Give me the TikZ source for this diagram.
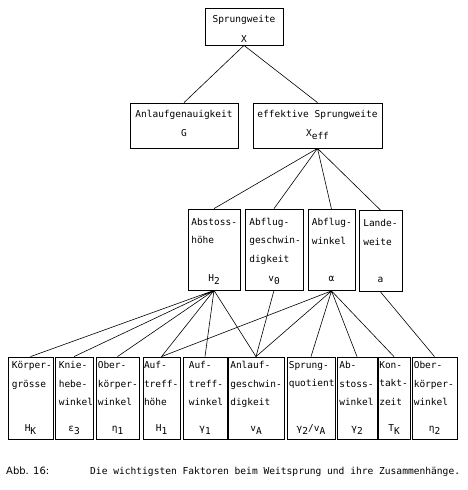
\documentclass[tikz,border=0pt]{standalone}
\usepackage{fontspec}
\setmonofont{DejaVu Sans Mono}
\setsansfont{DejaVu Sans}
\newcommand{\lowidx}[1]{\raisebox{-0.55ex}{#1}}
\begin{document}
\begin{tikzpicture}[x=1pt,y=-1pt,
  box/.style={draw, line width=0.8pt, inner sep=0pt},
  txt/.style={font=\ttfamily\fontsize{9.5}{18.5}\selectfont, inner sep=0pt, align=left, anchor=north west},
  ctxt/.style={font=\ttfamily\fontsize{9.5}{11}\selectfont, inner sep=0pt, anchor=base},
  sym/.style={font=\ttfamily\fontsize{9.5}{11}\selectfont, inner sep=0pt, anchor=base},
  link/.style={line width=0.6pt}]
% Fix the page size
\useasboundingbox (0,0) rectangle (467,490);

% Top level
\node[box, minimum width=78pt, minimum height=37pt] (sprung) at (244,26.5) {};
\node[ctxt] (sprungT) at (244,22) {Sprungweite};
\node[ctxt] (sprungS) at (244,42.5) {X};

% Second level
\node[box, minimum width=108pt, minimum height=45pt] (genau) at (184,125.5) {};
\node[ctxt] (genauT) at (184,117) {Anlaufgenauigkeit};
\node[ctxt] (genauS) at (184,136.5) {G};
\node[box, minimum width=129pt, minimum height=45pt] (xeff) at (317.5,125.5) {};
\node[ctxt] (xeffT) at (317.5,117) {effektive Sprungweite};
\node[ctxt] (xeffS) at (317.5,136.5) {X\lowidx{eff}};

% Third level
\node[box, minimum width=52pt, minimum height=81pt] (hoehe) at (214,249.5) {};
\node[box, minimum width=58pt, minimum height=81pt] (vnull) at (274,249.5) {};
\node[box, minimum width=47pt, minimum height=81pt] (winkel) at (331.5,250) {};
\node[box, minimum width=43pt, minimum height=81pt] (lande) at (380.5,251) {};
\node[txt, xshift=3.5pt, yshift=-9pt] at (hoehe.north west) {Abstoss-\\höhe};
\node[txt, xshift=4.5pt, yshift=-9pt] at (vnull.north west) {Abflug-\\geschwin-\\digkeit};
\node[txt, xshift=4pt, yshift=-9pt] at (winkel.north west) {Abflug-\\winkel};
\node[txt, xshift=4.5pt, yshift=-9pt] at (lande.north west) {Lande-\\weite};
\node[sym, yshift=9pt] at (hoehe.south) {H\lowidx{2}};
\node[sym, yshift=9pt] at (vnull.south) {v\lowidx{0}};
\node[sym, yshift=9pt] at (winkel.south) {α};
\node[sym, yshift=9pt] at (lande.south) {a};

% Fourth level
\node[box, minimum width=45pt, minimum height=82pt] (koerper) at (30.5,398) {};
\node[box, minimum width=38pt, minimum height=82pt] (knie) at (74,398) {};
\node[box, minimum width=43pt, minimum height=82pt] (oberk) at (117.5,398) {};
\node[box, minimum width=37pt, minimum height=82pt] (aufh) at (161.5,398) {};
\node[box, minimum width=44pt, minimum height=82pt] (aufw) at (205,398) {};
\node[box, minimum width=56pt, minimum height=82pt] (anlauf) at (256,398) {};
\node[box, minimum width=48pt, minimum height=82pt] (quot) at (311,398) {};
\node[box, minimum width=40pt, minimum height=82pt] (abstw) at (357,398) {};
\node[box, minimum width=32pt, minimum height=82pt] (kontakt) at (394,398) {};
\node[box, minimum width=45pt, minimum height=82pt] (oberz) at (434.5,398) {};
\node[txt, xshift=4pt, yshift=-4.5pt] at (koerper.north west) {Körper-\\grösse};
\node[txt, xshift=4pt, yshift=-4.5pt] at (knie.north west) {Knie-\\hebe-\\winkel};
\node[txt, xshift=2pt, yshift=-4.5pt] at (oberk.north west) {Ober-\\körper-\\winkel};
\node[txt, xshift=1.2pt, yshift=-4.5pt] at (aufh.north west) {Auf-\\treff-\\höhe};
\node[txt, xshift=6pt, yshift=-4.5pt] at (aufw.north west) {Auf-\\treff-\\winkel};
\node[txt, xshift=2.5pt, yshift=-4.5pt] at (anlauf.north west) {Anlauf-\\geschwin-\\digkeit};
\node[txt, xshift=2pt, yshift=-4.5pt] at (quot.north west) {Sprung-\\quotient};
\node[txt, xshift=2.5pt, yshift=-4.5pt] at (abstw.north west) {Ab-\\stoss-\\winkel};
\node[txt, xshift=1.5pt, yshift=-4.5pt] at (kontakt.north west) {Kon-\\takt-\\zeit};
\node[txt, xshift=2pt, yshift=-4.5pt] at (oberz.north west) {Ober-\\körper-\\winkel};
\node[sym, yshift=8pt] at (koerper.south) {H\lowidx{K}};
\node[sym, yshift=8pt] at (knie.south) {ε\lowidx{3}};
\node[sym, yshift=8pt] at (oberk.south) {η\lowidx{1}};
\node[sym, yshift=8pt] at (aufh.south) {H\lowidx{1}};
\node[sym, yshift=8pt] at (aufw.south) {γ\lowidx{1}};
\node[sym, yshift=8pt] at (anlauf.south) {v\lowidx{A}};
\node[sym, yshift=8pt] at (quot.south) {γ\lowidx{2}/v\lowidx{A}};
\node[sym, yshift=8pt] at (abstw.south) {γ\lowidx{2}};
\node[sym, yshift=8pt] at (kontakt.south) {T\lowidx{K}};
\node[sym, yshift=8pt] at (oberz.south) {η\lowidx{2}};

% Connectors between the levels
\draw[link] (sprung.south) -- (genau.north) (sprung.south) -- (xeff.north);
\draw[link] (xeff.south) -- (hoehe.north) (xeff.south) -- (vnull.north)
  (xeff.south) -- (winkel.north) (xeff.south) -- (lande.north);
\draw[link] (hoehe.south) -- (koerper.north) (hoehe.south) -- (knie.north)
  (hoehe.south) -- (oberk.north) (hoehe.south) -- (aufh.north)
  (hoehe.south) -- (aufw.north) (hoehe.south) -- (anlauf.north);
\draw[link] (vnull.south) -- (anlauf.north);
\draw[link] (winkel.south) -- (aufh.north) (winkel.south) -- (anlauf.north)
  (winkel.south) -- (quot.north) (winkel.south) -- (abstw.north)
  (winkel.south) -- (kontakt.north);
\draw[link] (lande.south) -- (oberz.north);

% Caption
\node[font=\sffamily\fontsize{10}{12}\selectfont, inner sep=0pt, anchor=base west] (abb) at (6,474.5) {Abb. 16:};
\node[font=\ttfamily\fontsize{9.6}{12}\selectfont, inner sep=0pt, anchor=base west] (caption) at (90,474.5) {Die wichtigsten Faktoren beim Weitsprung und ihre Zusammenhänge.};
\end{tikzpicture}
\end{document}
